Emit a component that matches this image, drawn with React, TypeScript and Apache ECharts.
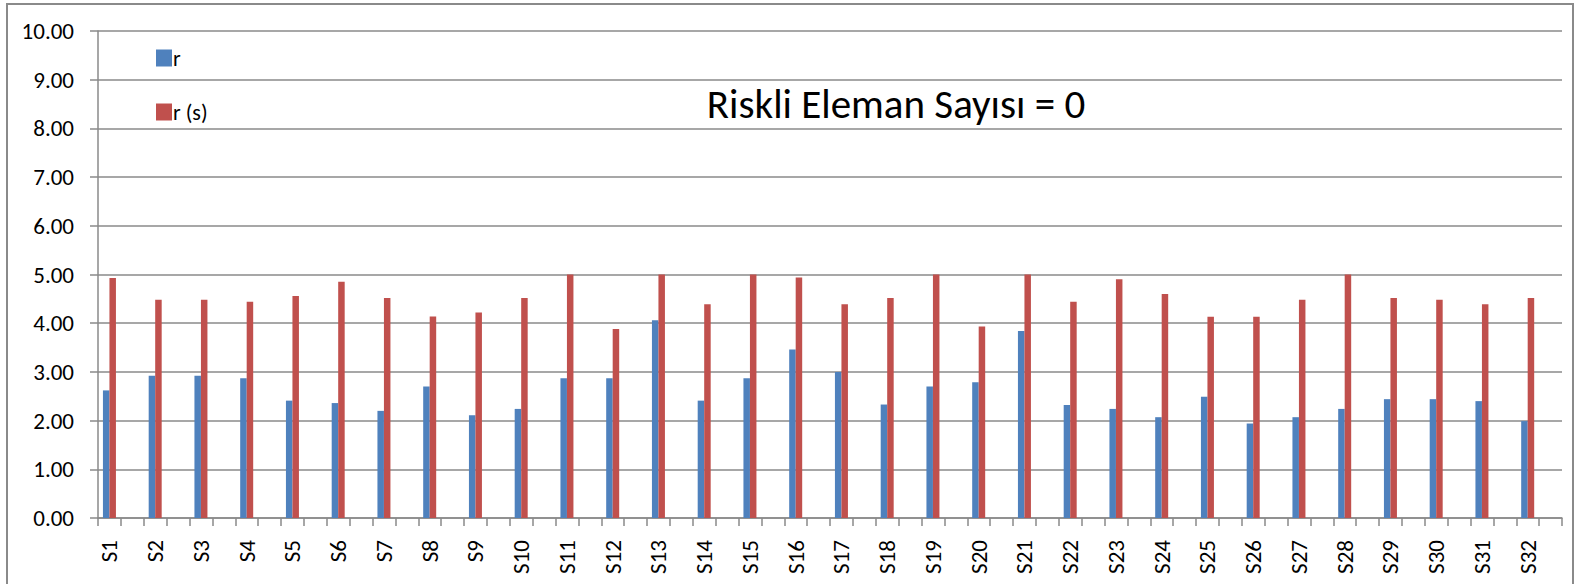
import React, { useEffect, useRef } from "react";
import * as echarts from "echarts";

const categories = [
  "S1", "S2", "S3", "S4", "S5", "S6", "S7", "S8", "S9", "S10", "S11", "S12", "S13", "S14", "S15", "S16",
  "S17", "S18", "S19", "S20", "S21", "S22", "S23", "S24", "S25", "S26", "S27", "S28", "S29", "S30", "S31", "S32",
];
const rValues = [
  2.62, 2.92, 2.92, 2.87, 2.41, 2.36, 2.2, 2.7, 2.11, 2.24, 2.87, 2.87, 4.06, 2.41, 2.87, 3.46,
  3.0, 2.33, 2.7, 2.79, 3.84, 2.32, 2.24, 2.07, 2.49, 1.94, 2.07, 2.24, 2.44, 2.44, 2.4, 1.99,
];
const rsValues = [
  4.93, 4.48, 4.48, 4.44, 4.56, 4.85, 4.52, 4.14, 4.22, 4.52, 5.0, 3.88, 5.0, 4.39, 5.0, 4.94,
  4.39, 4.52, 5.0, 3.93, 5.0, 4.44, 4.9, 4.6, 4.13, 4.13, 4.48, 5.0, 4.52, 4.48, 4.39, 4.52,
];
const yTicks = { min: 0, max: 10, interval: 1 };
const titleText = "Riskli Eleman Sayısı = 0";
const seriesNames = ["r", "r (s)"];

const FONT = "Carlito, Lato, 'Open Sans', sans-serif";

export default function App() {
  const ref = useRef<HTMLDivElement>(null);
  useEffect(() => {
    if (!ref.current) return;
    const chart = echarts.init(ref.current, null, { renderer: "svg" });
    // Each category is followed by an empty slot (as in the original chart)
    const axisCats = categories.flatMap((c) => [c, c + "_gap"]);
    const rData = rValues.flatMap((v) => [v, null]);
    const rsData = rsValues.flatMap((v) => [v, null]);
    chart.setOption({
      animation: false,
      backgroundColor: "#ffffff",
      textStyle: { fontFamily: FONT },
      graphic: [
        {
          type: "rect",
          shape: { x: 7, y: 4, width: 1566, height: 620 },
          style: { fill: "none", stroke: "#8a8a8a", lineWidth: 2 },
          silent: true,
        },
        {
          type: "text",
          x: 896,
          y: 104,
          style: {
            text: titleText,
            font: `41px ${FONT}`,
            fill: "#000000",
            align: "center",
            verticalAlign: "middle",
          },
        },
      ],
      legend: [
        {
          data: [seriesNames[0]],
          left: 156,
          top: 47,
          icon: "rect",
          itemWidth: 16,
          itemHeight: 17,
          textStyle: { fontSize: 22, color: "#000", fontFamily: FONT, padding: [0, 0, 0, -4] },
          padding: 0,
        },
        {
          data: [seriesNames[1]],
          left: 156,
          top: 101,
          icon: "rect",
          itemWidth: 16,
          itemHeight: 17,
          textStyle: { fontSize: 22, color: "#000", fontFamily: FONT, padding: [0, 0, 0, -4] },
          padding: 0,
        },
      ],
      grid: { left: 98, right: 23, top: 31, bottom: 66, containLabel: false, outerBoundsMode: "none" },
      xAxis: {
        type: "category",
        data: axisCats,
        boundaryGap: true,
        axisLine: { show: true, lineStyle: { color: "#8a8a8a", width: 1.5 } },
        axisTick: { show: true, interval: 0, length: 8, lineStyle: { color: "#8a8a8a", width: 1.5 } },
        axisLabel: {
          interval: 1,
          rotate: 90,
          fontSize: 23,
          color: "#000",
          margin: 22,
          fontFamily: FONT,
          hideOverlap: false,
        },
        splitLine: { show: false },
      },
      yAxis: {
        type: "value",
        min: yTicks.min,
        max: yTicks.max,
        interval: yTicks.interval,
        axisLine: { show: true, lineStyle: { color: "#8a8a8a", width: 1.5 } },
        axisTick: { show: true, length: 8, lineStyle: { color: "#8a8a8a", width: 1.5 } },
        axisLabel: {
          fontSize: 23,
          color: "#000",
          margin: 24,
          fontFamily: FONT,
          formatter: (v: number) => v.toFixed(2),
        },
        splitLine: { show: true, lineStyle: { color: "#8a8a8a", width: 1.5 } },
      },
      series: [
        {
          name: seriesNames[0],
          type: "bar",
          data: rData,
          barWidth: 6.5,
          barGap: "0%",
          itemStyle: { color: "#4F81BD" },
        },
        {
          name: seriesNames[1],
          type: "bar",
          data: rsData,
          barWidth: 6.5,
          barGap: "0%",
          itemStyle: { color: "#C0504D" },
        },
      ],
    });
    return () => chart.dispose();
  }, []);
  return (
    <div
      ref={ref}
      style={{ position: "absolute", left: 0, top: 0, width: 1585, height: 584 }}
    />
  );
}
